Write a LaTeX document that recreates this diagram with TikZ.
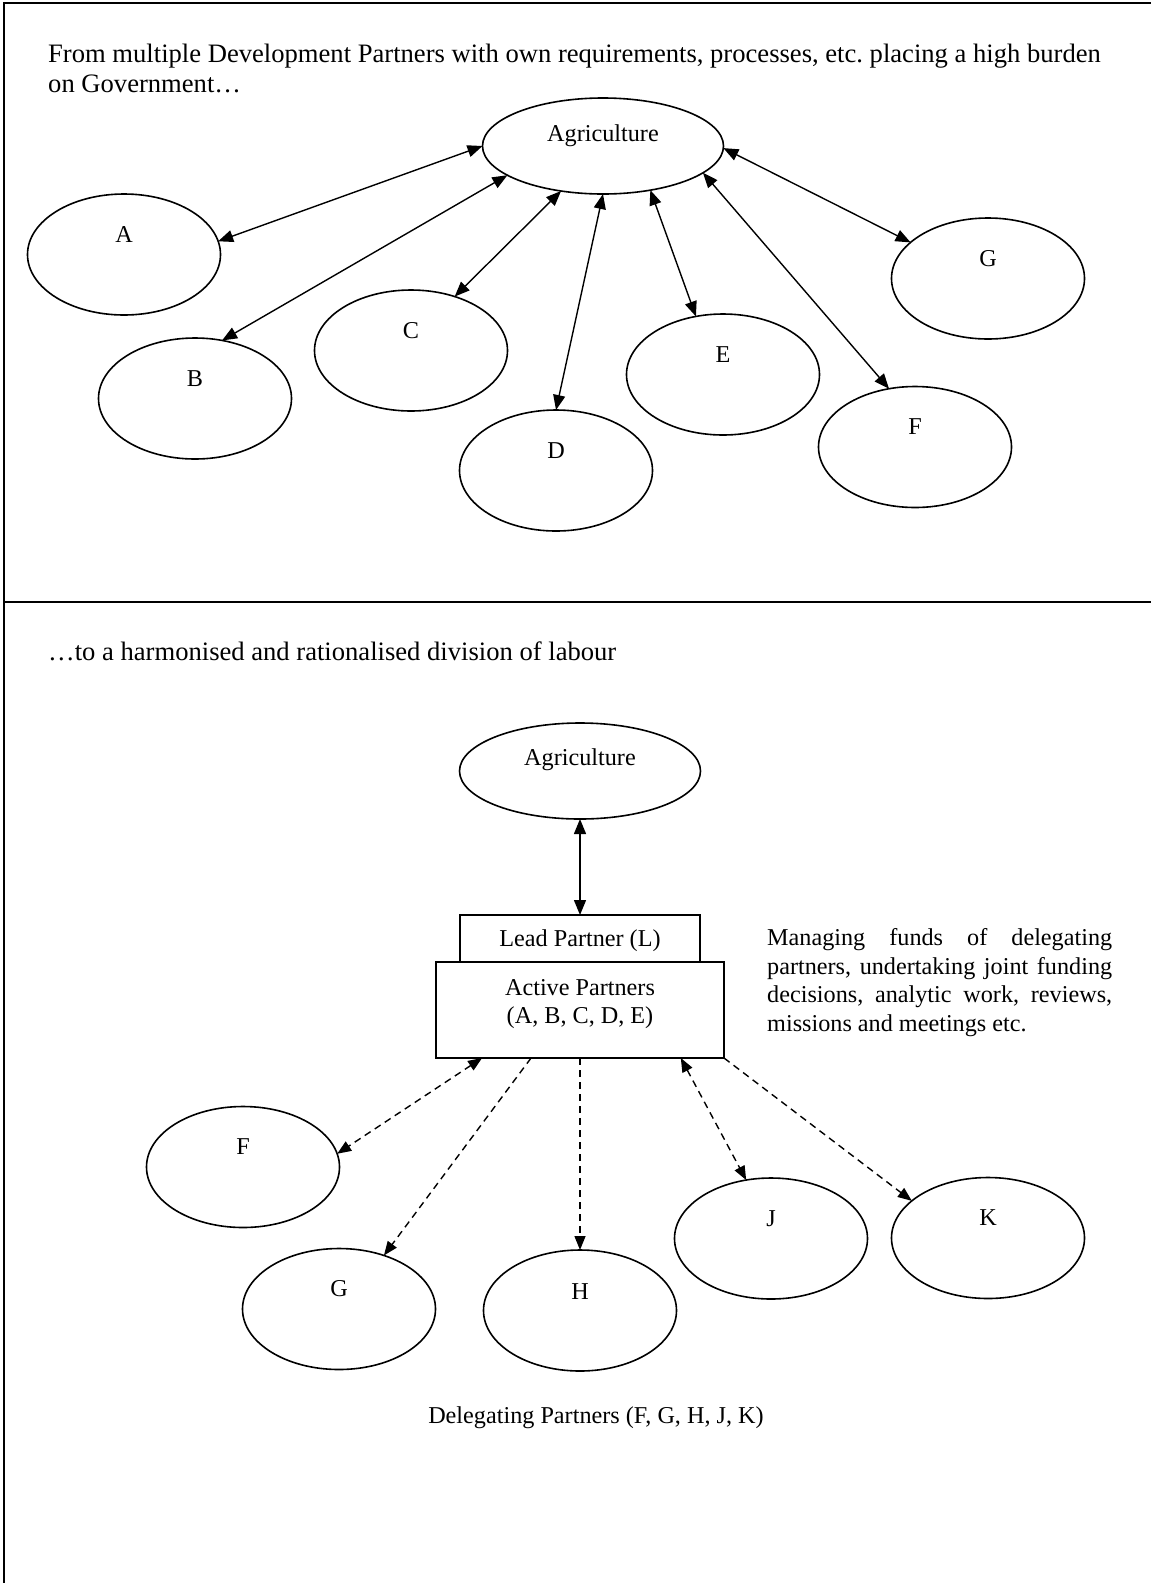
\documentclass[tikz,border=0pt]{standalone}
\usepackage{fontspec}
\setmainfont{Liberation Serif}
\frenchspacing
\usetikzlibrary{shapes.geometric,arrows.meta,calc}
\begin{document}
\begin{tikzpicture}[x=1pt,y=-1pt,
  ell/.style={draw,ellipse,line width=1.6pt,minimum width=193pt,minimum height=121pt,inner sep=0pt,outer sep=0pt},
  agri/.style={draw,ellipse,line width=1.6pt,minimum width=241pt,minimum height=96pt,inner sep=0pt,outer sep=0pt},
  lbl/.style={font=\fontsize{24.2}{28.5}\selectfont,inner sep=0pt},
  hdr/.style={font=\fontsize{26.6}{30}\selectfont,inner sep=0pt,anchor=base west},
  conn/.style={line width=1.4pt,>={Triangle[length=15pt,width=12pt]}},
  dconn/.style={line width=1.4pt,>={Triangle[length=14pt,width=11pt]},dash pattern=on 7pt off 5pt},
  box/.style={draw,rectangle,line width=1.9pt,inner sep=0pt,outer sep=0pt},
  frame/.style={line width=2.2pt}
]
\useasboundingbox (0,0) rectangle (1151,1583);
\fill[white] (0,0) rectangle (1151,1583);
% frame
\coordinate (fbl) at (4,1583);
\coordinate (ftl) at (4,3);
\coordinate (ftr) at (1151,3);
\coordinate (fml) at (4,602);
\coordinate (fmr) at (1151,602);
\draw[frame] (fbl) -- (ftl) -- (ftr);
\draw[frame] (fml) -- (fmr);

% ---------- top section ----------
\node[hdr] (head1a) at (48,62) {From multiple Development Partners with own requirements, processes, etc. placing a high burden};
\node[hdr] (head1b) at (48,92) {on Government…};

\node[agri,label={[lbl,yshift=10pt]center:Agriculture}] (agri) at (603,146) {};
\node[ell,label={[lbl,yshift=20pt]center:A}] (a) at (124,254.5) {};
\node[ell,label={[lbl,yshift=20pt]center:B}] (b) at (195,398.5) {};
\node[ell,label={[lbl,yshift=20pt]center:C}] (c) at (411,350.5) {};
\node[ell,label={[lbl,yshift=20pt]center:D}] (d) at (556,470.5) {};
\node[ell,label={[lbl,yshift=20pt]center:E}] (e) at (723,374.5) {};
\node[ell,label={[lbl,yshift=20pt]center:F}] (f) at (915,447) {};
\node[ell,label={[lbl,yshift=20pt]center:G}] (g) at (988,278.5) {};

\draw[conn,<->] (agri.180) -- (a.8);
\draw[conn,<->] (agri.197) -- (b.65);
\draw[conn,<->] (agri.227) -- (c.51);
\draw[conn,<->] (agri.270) -- (d.90);
\draw[conn,<->] (agri.317) -- (e.115);
\draw[conn,<->] (agri.345) -- (f.114);
\draw[conn,<->] (agri.359) -- (g.155);

% ---------- bottom section ----------
\node[hdr] (head2) at (48,660) {…to a harmonised and rationalised division of labour};

\node[agri,label={[lbl,yshift=11pt]center:Agriculture}] (agri2) at (580,771) {};
\node[box,minimum width=240pt,minimum height=47pt] (lead) at (580,938.5) {};
\node[box,minimum width=288pt,minimum height=96pt] (active) at (580,1010) {};
\node[lbl,anchor=base] (leadtext) at (580,946.5) {Lead Partner (L)};
\node[lbl,align=center] (activetext) at (580,1004) {Active Partners\\(A, B, C, D, E)};

\node[lbl,align=left,anchor=north west] (manage) at (767,928.5) {%
  \makebox[345pt][s]{Managing funds of delegating}\\
  \makebox[345pt][s]{partners, undertaking joint funding}\\
  \makebox[345pt][s]{decisions, analytic work, reviews,}\\
  missions and meetings etc.};

\draw[conn,<->] (agri2.south) -- (lead.north);

\node[ell,label={[lbl,yshift=20pt]center:F}] (f2) at (243,1167) {};
\node[ell,label={[lbl,yshift=20pt]center:G}] (g2) at (339,1309) {};
\node[ell,label={[lbl,yshift=19pt]center:H}] (h2) at (580,1310.5) {};
\node[ell,label={[lbl,yshift=20pt]center:J}] (j2) at (771,1238.5) {};
\node[ell,label={[lbl,yshift=20pt]center:K}] (k2) at (988,1238) {};

\coordinate (pF) at ($(active.south west)!0.16!(active.south east)$);
\coordinate (pG) at ($(active.south west)!0.33!(active.south east)$);
\coordinate (pJ) at ($(active.south west)!0.85!(active.south east)$);

\draw[dconn,<->] (pF) -- (f2.8);
\draw[dconn,->] (pG) -- (g2.50);
\draw[dconn,->] (active.south) -- (h2.90);
\draw[dconn,<->] (pJ) -- (j2.113);
\draw[dconn,->] (active.south east) -- (k2.154);

\node[lbl] (deleg) at (596,1418) {Delegating Partners (F, G, H, J, K)};
\end{tikzpicture}
\end{document}
